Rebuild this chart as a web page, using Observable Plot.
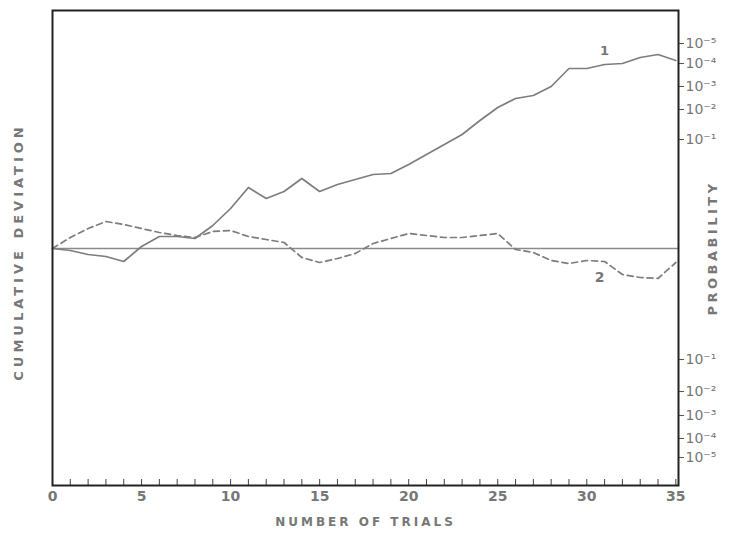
<!DOCTYPE html>
<html>
<head>
<meta charset="utf-8">
<script src="https://cdn.jsdelivr.net/npm/d3@7"></script>
<script src="https://cdn.jsdelivr.net/npm/@observablehq/plot@0.6"></script>
<style>
  html, body { margin: 0; padding: 0; background: #fff; }
  #chart svg { display: block; }
  .ttl { letter-spacing: 3px; }
  .ttl-l { letter-spacing: 4px; }
  .ttl-r { letter-spacing: 3.5px; }
</style>
</head>
<body>
<div id="chart"></div>
<script>
// Trial numbers
const trials = [0,1,2,3,4,5,6,7,8,9,10,11,12,13,14,15,16,17,18,19,20,21,22,23,24,25,26,27,28,29,30,31,32,33,34,35];
// Curve 1 (solid) cumulative deviation, arbitrary units
const series1 = [0,-0.2,-0.6,-0.8,-1.3,0.2,1.2,1.2,1.0,2.3,4.0,6.1,5.0,5.7,7.0,5.7,6.4,6.9,7.4,7.5,8.4,9.4,10.4,11.4,12.8,14.1,15.0,15.3,16.2,18.0,18.0,18.4,18.5,19.1,19.4,18.8];
// Curve 2 (dashed) cumulative deviation
const series2 = [0,1.1,2.0,2.7,2.4,2.0,1.6,1.3,1.1,1.7,1.8,1.2,0.9,0.6,-0.9,-1.4,-1.0,-0.5,0.5,1.0,1.5,1.3,1.1,1.1,1.3,1.5,-0.1,-0.4,-1.2,-1.5,-1.2,-1.3,-2.6,-2.9,-3.0,-1.4];
// Probability scale on the right (deviation value -> label)
const probValues = [20.5,18.5,16.2,13.9,10.9,-11.1,-14.3,-16.7,-19.0,-20.9];
const probLabels = ["10⁻⁵","10⁻⁴","10⁻³","10⁻²","10⁻¹","10⁻¹","10⁻²","10⁻³","10⁻⁴","10⁻⁵"];
const xLabels = [0,5,10,15,20,25,30,35];

const d1 = trials.map((t,i) => ({t, v: series1[i]}));
const d2 = trials.map((t,i) => ({t, v: series2[i]}));
const probMap = new Map(probValues.map((v,i) => [v, probLabels[i]]));

const W = 729, H = 535;
const mt = 10, mb = 50, ml = 52, mr = 51;
const gray = "#777";
const lineGray = "#7d7d7d";

const chart = Plot.plot({
  width: W, height: H,
  marginTop: mt, marginBottom: mb, marginLeft: ml, marginRight: mr,
  style: {fontFamily: "DejaVu Sans", fontSize: "12px", color: gray, background: "#fff"},
  x: {domain: [0, 35.15]},
  y: {domain: [-23.7, 23.8]},
  marks: [
    Plot.ruleY([0], {stroke: "#8a8a8a", strokeWidth: 1.6}),
    Plot.line(d1, {x: "t", y: "v", stroke: lineGray, strokeWidth: 1.7}),
    Plot.line(d2, {x: "t", y: "v", stroke: lineGray, strokeWidth: 1.7, strokeDasharray: "6,4"}),
    Plot.tickX(trials, {x: d => d, stroke: "#444", strokeWidth: 1, insetTop: H - mt - mb - 6}),
    Plot.axisX({ticks: xLabels, tickSize: 0, tickPadding: 6, fontSize: 14, fontWeight: "bold", fill: gray, label: null}),
    Plot.axisY({anchor: "right", ticks: probValues, tickSize: 5, tickPadding: 2, stroke: "#555",
      tickFormat: v => probMap.get(v), fontSize: 14, fill: gray, label: null}),
    Plot.frame({stroke: "#222", strokeWidth: 2}),
    Plot.text(d1.filter(d => d.t === 31), {x: "t", y: "v", text: () => "1", dy: -14, fontSize: 13, fontWeight: "bold", fill: gray}),
    Plot.text(d2.filter(d => d.t === 31), {x: "t", y: "v", text: () => "2", dx: -5, dy: 16, fontSize: 14, fontWeight: "bold", fill: gray}),
    Plot.text(["CUMULATIVE DEVIATION"], {frameAnchor: "left", textAnchor: "middle", text: d => d, rotate: -90, dx: -34, dy: 4, fontSize: 13, fontWeight: "bold", fill: gray, className: "ttl-l"}),
    Plot.text(["PROBABILITY"], {frameAnchor: "right", textAnchor: "middle", text: d => d, rotate: -90, dx: 34, fontSize: 13, fontWeight: "bold", fill: gray, className: "ttl-r"}),
    Plot.text(["NUMBER OF TRIALS"], {frameAnchor: "bottom", text: d => d, dy: 40, fontSize: 12, fontWeight: "bold", fill: gray, className: "ttl"})
  ]
});
document.getElementById("chart").appendChild(chart);
</script>
</body>
</html>
